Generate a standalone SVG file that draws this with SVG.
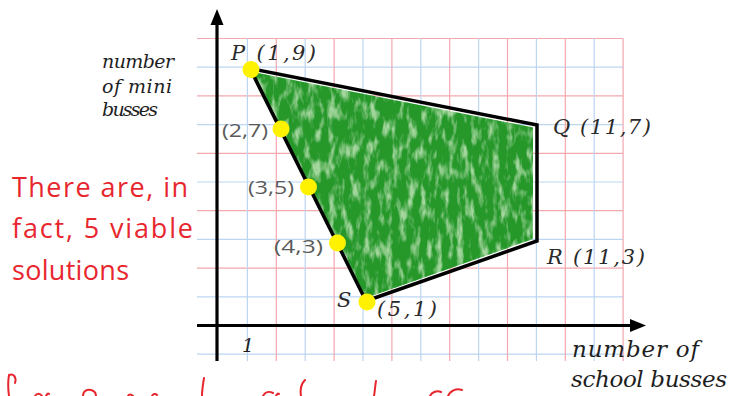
<svg xmlns="http://www.w3.org/2000/svg" width="732" height="396" viewBox="0 0 732 396">
<style>
.gr{stroke:#f3a7ae;stroke-width:1.2}
.gb{stroke:#bcd6f2;stroke-width:1.2}
.ax{stroke:#000;stroke-width:3.2;fill:none}
.edge{stroke:#000;stroke-width:3.5;fill:none;stroke-linejoin:miter}
.dot{fill:#fff200}
.lbl{font-family:"DejaVu Serif","Liberation Serif",serif;font-style:italic;fill:#2a2a2a;font-size:21px}
.co{font-family:"Open Sans","Liberation Sans",sans-serif;fill:#5a5a5a;font-size:19px}
.ax-l{font-family:"DejaVu Serif","Liberation Serif",serif;font-style:italic;fill:#1e1e1e;font-size:19px}
.ax-b{font-size:23px}
.red{font-family:"Open Sans","Liberation Sans",sans-serif;fill:#e8262e;font-size:27px}
.ink{stroke:#e8262e;stroke-width:2;fill:none;stroke-linecap:round}
</style>
<defs>
<filter id="crayon" x="-5%" y="-5%" width="110%" height="110%">
<feTurbulence type="fractalNoise" baseFrequency="0.14 0.05" numOctaves="3" seed="11" result="noise"/>
<feColorMatrix in="noise" type="matrix" values="0 0 0 0 0  0 0 0 0 0  0 0 0 0 0  3.4 0 0 0 -0.8" result="mask"/>
<feComposite in="SourceGraphic" in2="mask" operator="in"/>
</filter>
</defs>
<rect width="732" height="396" fill="#fff"/>
<g id="grid">
<line class="gb" x1="197" y1="354.2" x2="623" y2="354.2"/>
<line class="gb" x1="197" y1="296.8" x2="623" y2="296.8"/>
<line class="gr" x1="197" y1="268.1" x2="623" y2="268.1"/>
<line class="gb" x1="197" y1="239.4" x2="623" y2="239.4"/>
<line class="gr" x1="197" y1="210.7" x2="623" y2="210.7"/>
<line class="gb" x1="197" y1="182" x2="623" y2="182"/>
<line class="gr" x1="197" y1="153.3" x2="623" y2="153.3"/>
<line class="gb" x1="197" y1="124.6" x2="623" y2="124.6"/>
<line class="gr" x1="197" y1="95.9" x2="623" y2="95.9"/>
<line class="gb" x1="197" y1="67.2" x2="623" y2="67.2"/>
<line class="gr" x1="197" y1="38.5" x2="623" y2="38.5"/>
<line class="gb" x1="247.4" y1="38.5" x2="247.4" y2="361"/>
<line class="gr" x1="276.3" y1="38.5" x2="276.3" y2="361"/>
<line class="gb" x1="305.2" y1="38.5" x2="305.2" y2="361"/>
<line class="gr" x1="334.1" y1="38.5" x2="334.1" y2="361"/>
<line class="gb" x1="363" y1="38.5" x2="363" y2="361"/>
<line class="gr" x1="391.9" y1="38.5" x2="391.9" y2="361"/>
<line class="gb" x1="420.8" y1="38.5" x2="420.8" y2="361"/>
<line class="gr" x1="449.7" y1="38.5" x2="449.7" y2="361"/>
<line class="gb" x1="478.6" y1="38.5" x2="478.6" y2="361"/>
<line class="gr" x1="507.5" y1="38.5" x2="507.5" y2="361"/>
<line class="gb" x1="536.4" y1="38.5" x2="536.4" y2="361"/>
<line class="gr" x1="565.3" y1="38.5" x2="565.3" y2="361"/>
<line class="gb" x1="594.2" y1="38.5" x2="594.2" y2="361"/>
<line class="gr" x1="623.1" y1="38.5" x2="623.1" y2="361"/>
</g>
<g id="region">
<polygon points="253,72 533,127.5 533,239 366,298" fill="#a3d69d"/>
<polygon points="253,72 533,127.5 533,239 366,298" fill="#27982c" filter="url(#crayon)"/>
</g>
<g id="axes">
<line class="ax" x1="217" y1="22" x2="217" y2="361"/>
<polygon points="217,9 210.5,25 223.5,25" fill="#000"/>
<line class="ax" x1="197" y1="325.5" x2="632" y2="325.5"/>
<polygon points="646,325.5 630,319 630,332" fill="#000"/>
<text class="ax-l" x="242" y="352">1</text>
<text class="ax-l" x="102" y="68" textLength="72">number</text>
<text class="ax-l" x="102" y="93" textLength="70">of mini</text>
<text class="ax-l" x="102" y="116" textLength="56">busses</text>
<text class="ax-l ax-b" x="572" y="357" textLength="127">number of</text>
<text class="ax-l ax-b" x="571" y="387" textLength="156">school busses</text>
</g>
<g id="connectors">
<polyline class="edge" points="250,68.5 537,125 537,241 366,301 250,68.5"/>
</g>
<g id="P">
<circle class="dot" cx="251" cy="69.5" r="8.5"/>
<text class="lbl" x="231" y="60" textLength="85">P (1,9)</text>
</g>
<g id="pt27">
<circle class="dot" cx="281" cy="129" r="8.5"/>
<text class="co" x="222" y="137" textLength="46" lengthAdjust="spacingAndGlyphs">(2,7)</text>
</g>
<g id="pt35">
<circle class="dot" cx="308.5" cy="187" r="8.5"/>
<text class="co" x="248" y="194" textLength="46" lengthAdjust="spacingAndGlyphs">(3,5)</text>
</g>
<g id="pt43">
<circle class="dot" cx="337.5" cy="243" r="8.5"/>
<text class="co" x="274" y="253" textLength="49" lengthAdjust="spacingAndGlyphs">(4,3)</text>
</g>
<g id="S">
<circle class="dot" cx="367" cy="302" r="8.5"/>
<text class="lbl" x="337" y="307">S</text>
<text class="lbl" x="377" y="316" textLength="60">(5,1)</text>
</g>
<g id="Q">
<text class="lbl" x="553" y="134" textLength="98">Q (11,7)</text>
</g>
<g id="R">
<text class="lbl" x="547" y="264" textLength="98">R (11,3)</text>
</g>
<g id="note">
<text class="red" x="12" y="197" textLength="176">There are, in</text>
<text class="red" x="12" y="238" textLength="181">fact, 5 viable</text>
<text class="red" x="12" y="280" textLength="117">solutions</text>
</g>
<g id="ink">
<path class="ink" d="M9,396 C8,389 8,381 9,375 C13,373 17,377 15,383"/>
<path class="ink" d="M35,396 C37,393 40,393 42,396 M46,396 C47,394 48,393 49,394"/>
<path class="ink" d="M83,396 C83,391 87,389 91,390 C95,391 96,394 96,396"/>
<path class="ink" d="M128,396 C129,394 131,394 133,396 M152,396 C153,394 155,393 157,395"/>
<path class="ink" d="M202,396 C202,390 203,384 204,378"/>
<path class="ink" d="M263,396 C265,392 269,391 273,393 M276,396 C277,394 278,393 279,394"/>
<path class="ink" d="M301,396 C300,390 301,384 305,380"/>
<path class="ink" d="M374,396 C375,391 375,386 376,381"/>
<path class="ink" d="M430,396 C432,392 437,390 441,392 M448,396 C450,391 456,388 462,390"/>
</g>
</svg>
